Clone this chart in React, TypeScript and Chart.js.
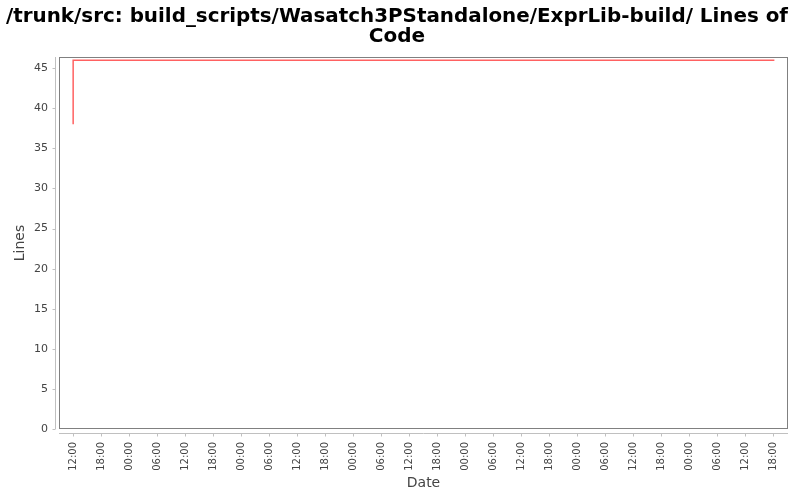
import React, { useEffect, useRef } from 'react';
import Chart from 'chart.js/auto';

// Lines of code over time (commit timestamps, UTC)
const commitDates = ['2009-05-12T12:02:00Z', '2009-05-12T12:08:00Z', '2009-05-18T18:17:00Z'];
const lineCounts = [38, 46, 46];

// visible time window and y range
const refDay = '2009-05-12T00:00:00Z';
const axisStart = '2009-05-12T09:00:00Z';
const axisEnd = '2009-05-18T21:12:00Z';
const yMax = 46.4;
const yStep = 5;
const xStepHours = 6;

const titleLines = ['/trunk/src: build_scripts/Wasatch3PStandalone/ExprLib-build/ Lines of', 'Code'];

const HOUR = 3600 * 1000;
const toHours = (d: string) => (Date.parse(d) - Date.parse(refDay)) / HOUR;
const pad2 = (n: number) => (n < 10 ? '0' + n : '' + n);

const framePlugin = {
  id: 'frame',
  afterDraw(chart: any) {
    const { ctx, chartArea: a, scales } = chart;
    ctx.save();
    ctx.lineWidth = 1;
    // plot outline
    ctx.strokeStyle = '#808080';
    ctx.strokeRect(a.left + 0.5, a.top + 0.5, a.right - a.left - 1, a.bottom - a.top - 1);
    // offset axis lines
    ctx.strokeStyle = '#c0c0c0';
    const ax = Math.round(a.left - 4) + 0.5;
    const ay = Math.round(a.bottom + 4) + 0.5;
    ctx.beginPath();
    ctx.moveTo(ax, a.top);
    ctx.lineTo(ax, a.bottom);
    scales.y.ticks.forEach((t: any) => {
      const py = Math.round(scales.y.getPixelForValue(t.value)) + 0.5;
      ctx.moveTo(ax - 3, py);
      ctx.lineTo(ax, py);
    });
    ctx.moveTo(a.left, ay);
    ctx.lineTo(a.right, ay);
    scales.x.ticks.forEach((t: any) => {
      const px = Math.round(scales.x.getPixelForValue(t.value)) + 0.5;
      ctx.moveTo(px, ay);
      ctx.lineTo(px, ay + 3);
    });
    ctx.stroke();
    ctx.restore();
  },
};

const App: React.FC = () => {
  const canvasRef = useRef<HTMLCanvasElement>(null);
  const chartInstance = useRef<Chart | null>(null);

  useEffect(() => {
    document.body.style.margin = '0';
    if (!canvasRef.current) return;
    if (chartInstance.current) chartInstance.current.destroy();

    const points = commitDates.map((d, i) => ({ x: toHours(d), y: lineCounts[i] }));

    chartInstance.current = new Chart(canvasRef.current, {
      type: 'line',
      data: {
        datasets: [
          {
            label: 'Lines',
            data: points,
            borderColor: 'rgba(255, 30, 30, 0.7)',
            borderWidth: 1.5,
            pointRadius: 0,
            stepped: 'after',
            fill: false,
          },
        ],
      },
      options: {
        responsive: true,
        maintainAspectRatio: false,
        animation: false,
        layout: { padding: { left: 6, right: 12, top: 0, bottom: 0 } },
        font: { family: '"DejaVu Sans", sans-serif' },
        plugins: {
          legend: { display: false },
          tooltip: { enabled: false },
          title: {
            display: true,
            text: titleLines,
            color: '#000',
            font: { size: 20, weight: 'bold', family: '"DejaVu Sans", sans-serif', lineHeight: 1 },
            padding: { top: 7, bottom: 10 },
          },
        },
        scales: {
          x: {
            type: 'linear',
            min: toHours(axisStart),
            max: toHours(axisEnd),
            afterFit: (scale: any) => {
              scale.height = 71;
            },
            grid: { display: false, drawTicks: false },
            border: { display: false },
            ticks: {
              stepSize: xStepHours,
              includeBounds: false,
              autoSkip: false,
              minRotation: 90,
              maxRotation: 90,
              padding: 13,
              color: '#444',
              font: { size: 10, family: '"DejaVu Sans", sans-serif' },
              callback: (v: any) => {
                const h = ((Math.round(Number(v)) % 24) + 24) % 24;
                return pad2(h) + ':00';
              },
            },
            title: {
              display: true,
              text: 'Date',
              color: '#444',
              font: { size: 14, family: '"DejaVu Sans", sans-serif' },
              padding: { top: 0, bottom: 8 },
            },
          },
          y: {
            min: 0,
            max: yMax,
            afterFit: (scale: any) => {
              scale.width = 53;
            },
            grid: { display: false, drawTicks: false },
            border: { display: false },
            ticks: {
              stepSize: yStep,
              includeBounds: false,
              padding: 11,
              color: '#444',
              font: { size: 11, family: '"DejaVu Sans", sans-serif' },
            },
            title: {
              display: true,
              text: 'Lines',
              color: '#444',
              font: { size: 14, family: '"DejaVu Sans", sans-serif' },
              padding: { top: 6, bottom: 0 },
            },
          },
        },
      },
      plugins: [framePlugin],
    });

    return () => {
      if (chartInstance.current) {
        chartInstance.current.destroy();
        chartInstance.current = null;
      }
    };
  }, []);

  return (
    <div style={{ width: '800px', height: '500px', background: '#fff' }}>
      <canvas ref={canvasRef} />
    </div>
  );
};

export default App;
